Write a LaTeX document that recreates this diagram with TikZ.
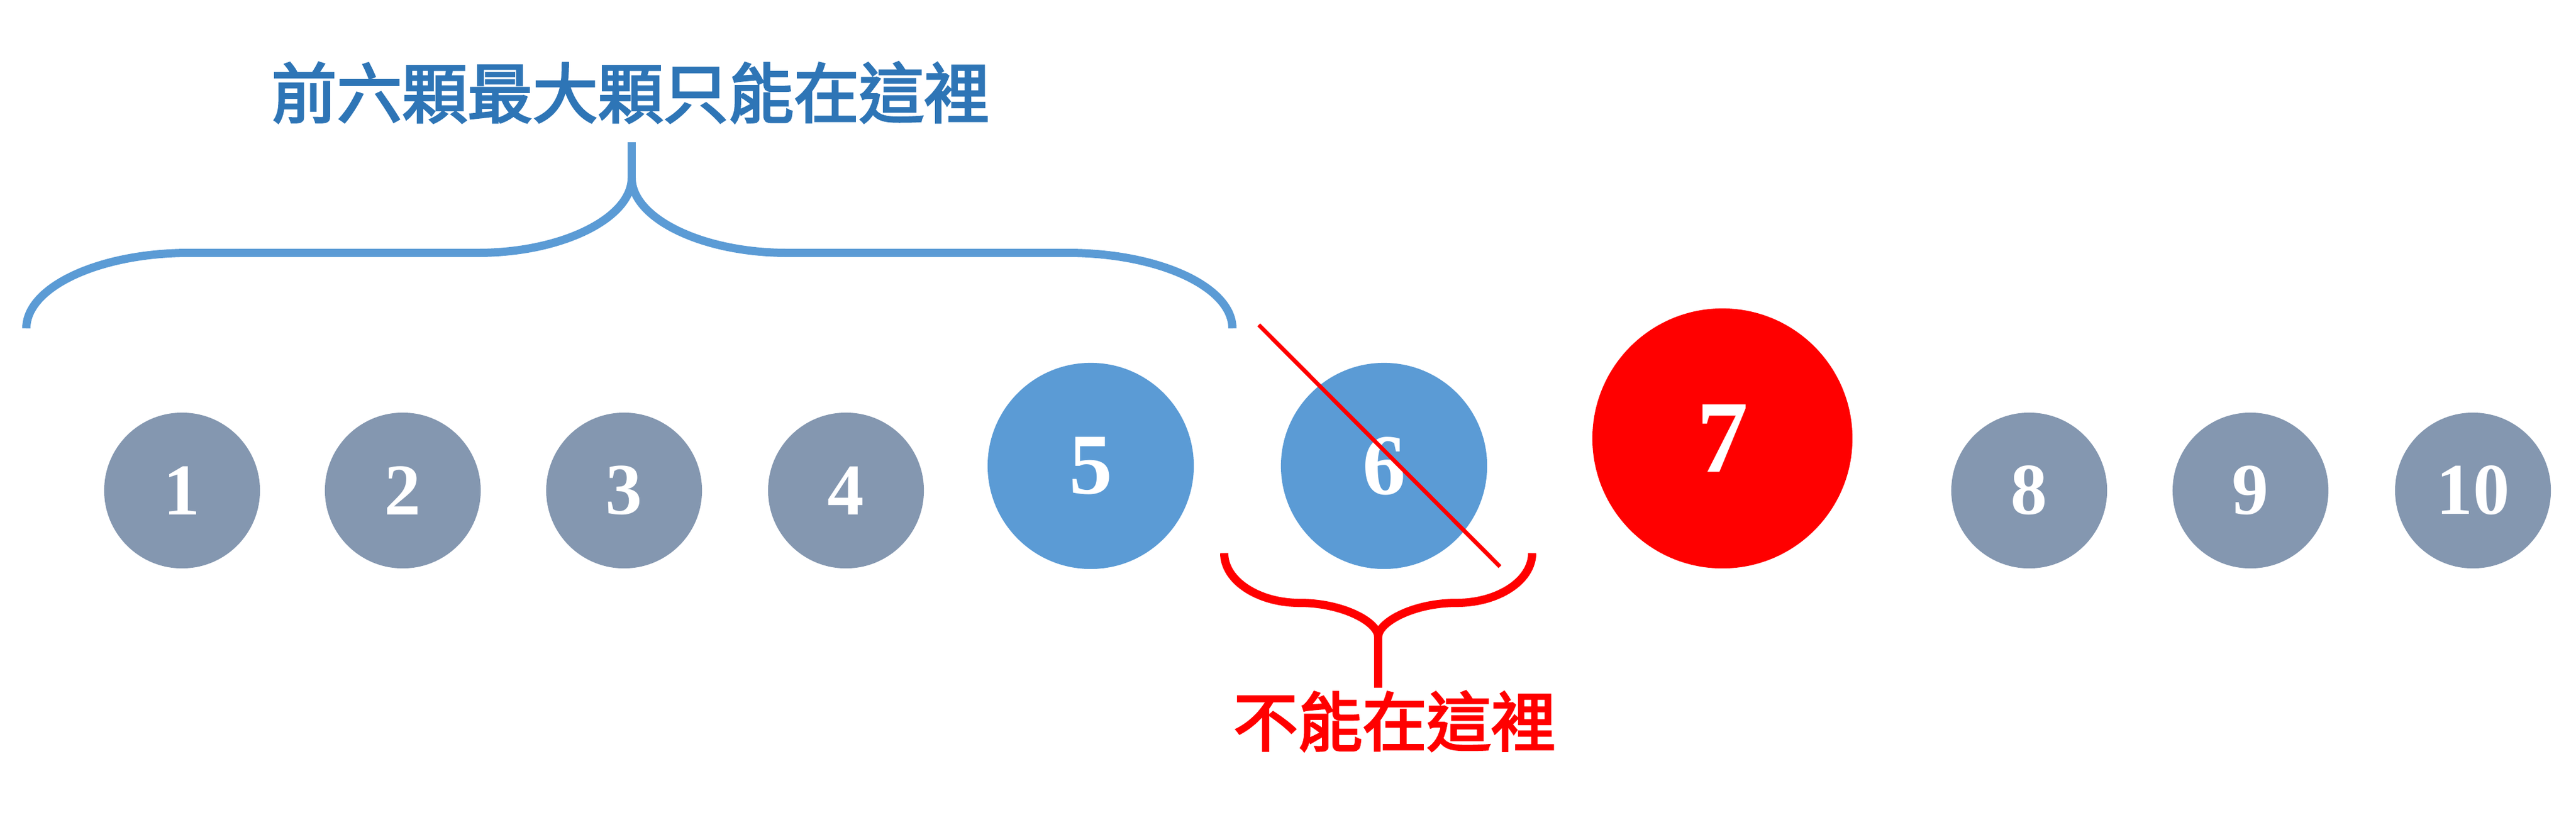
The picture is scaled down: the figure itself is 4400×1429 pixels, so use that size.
\documentclass[tikz,border=0pt]{standalone}
\usepackage{fontspec}
\setmainfont{Liberation Serif}
\newfontfamily\cjk{Noto Sans CJK TC}[FakeBold=3]
\definecolor{ballgray}{HTML}{8497B0}
\definecolor{ballblue}{HTML}{5B9BD5}
\definecolor{ballred}{HTML}{FF0000}
\definecolor{titleblue}{HTML}{2E75B6}
\begin{document}
\begin{tikzpicture}[x=0.01cm,y=-0.01cm,
    ball/.style={circle,fill=ballgray,text=white,inner sep=0pt,minimum size=2.66cm,font=\bfseries\fontsize{35.5}{36}\selectfont},
    midball/.style={ball,fill=ballblue,minimum size=3.52cm,font=\bfseries\fontsize{42}{42}\selectfont},
    topball/.style={ball,fill=ballred,minimum size=4.44cm,font=\bfseries\fontsize{50}{50}\selectfont},
    bluebrace/.style={draw=ballblue,line width=0.14cm},
    redbrace/.style={draw=ballred,line width=0.14cm},
    label/.style={font=\cjk\fontsize{31.7}{32}\selectfont,inner sep=0pt}]
  \useasboundingbox (0,0) rectangle (4400,1429);

  \foreach \i/\x in {1/311,2/688,3/1066,4/1445,8/3466,9/3844,10/4224}
  \node[ball] (b\i) at (\x,838) {\i};
  \node[midball] (b5) at (1863,796) {5};
  \node[midball] (b6) at (2364,796) {6};
  \node[topball] (b7) at (2942,749) {7};

  \coordinate (bl) at (45,561);
  \coordinate (br) at (2105,561);
  \coordinate (bmid) at (1079,304);
  \coordinate (btip) at (1079,243);
  \draw[bluebrace] (bl) .. controls (45,490) and (170,432) .. (323,432) -- (816,432)
    .. controls (961,432) and (1079,372) .. (bmid)
    .. controls (1079,372) and (1197,432) .. (1345,432) -- (1824,432)
    .. controls (1979,432) and (2105,490) .. (br);
  \draw[bluebrace] (bmid) -- (btip);
  \node[label,text=titleblue] (top) at (1077,158) {前六顆最大顆只能在這裡};

  \coordinate (x1) at (2150,555);
  \coordinate (x2) at (2562,968);
  \draw[ballred,line width=0.07cm] (x1) -- (x2);

  \coordinate (rl) at (2091,945);
  \coordinate (rr) at (2617,945);
  \coordinate (rmid) at (2354,1088);
  \coordinate (rtip) at (2354,1175);
  \draw[redbrace] (rl) .. controls (2091,992) and (2149,1030) .. (2220,1030)
    .. controls (2294,1030) and (2354,1063) .. (rmid)
    .. controls (2354,1063) and (2414,1030) .. (2488,1030)
    .. controls (2559,1030) and (2617,992) .. (rr);
  \draw[redbrace] (rmid) -- (rtip);
  \node[label,text=ballred,font=\cjk\fontsize{31.3}{32}\selectfont] (bottom) at (2382,1232) {不能在這裡};
\end{tikzpicture}
\end{document}
